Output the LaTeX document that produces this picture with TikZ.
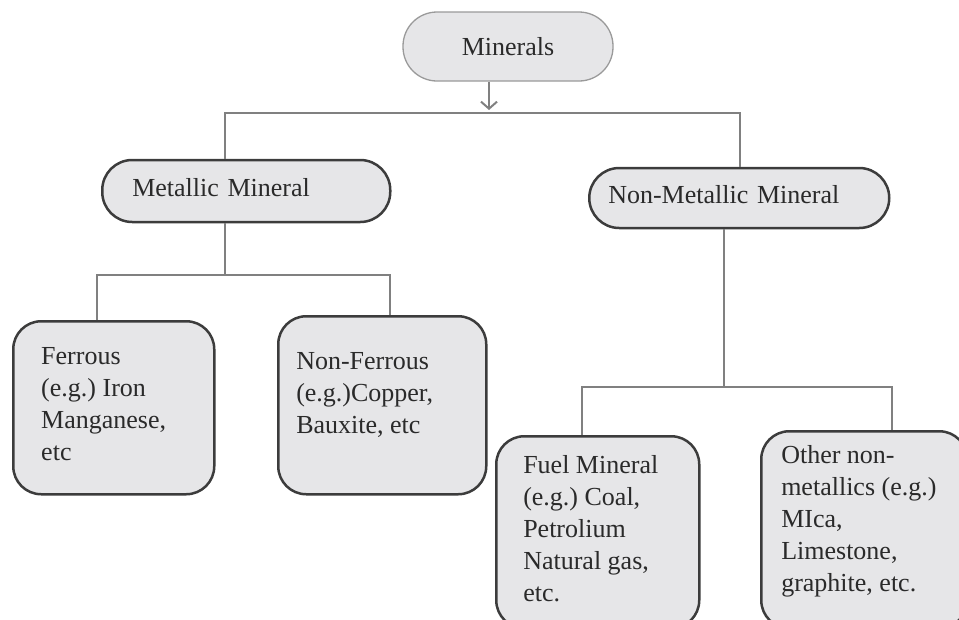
\documentclass[tikz,border=0pt]{standalone}
\usepackage{fontspec}
\setmainfont{Liberation Serif}
\usetikzlibrary{arrows.meta,positioning}
\definecolor{boxfill}{HTML}{E6E6E8}
\definecolor{boxline}{HTML}{3C3C3C}
\definecolor{rootline}{HTML}{9A9A9A}
\definecolor{linkgray}{HTML}{808080}
\definecolor{textgray}{HTML}{2A2A2A}
\frenchspacing

\begin{document}
\begin{tikzpicture}[x=1pt,y=-1pt,>={Straight Barb[length=7pt,width=16pt]},
    every node/.style={font=\fontsize{26}{32}\selectfont,text=textgray},
    root node/.style={draw=rootline,line width=1.3pt,fill=boxfill,rounded corners=34pt,minimum width=210pt,minimum height=69pt},
    main node/.style={draw=boxline,line width=2.5pt,fill=boxfill,rounded corners=30pt,minimum height=62pt,align=left,anchor=west,text depth=8pt},
    leaf node/.style={draw=boxline,line width=2.5pt,fill=boxfill,rounded corners=28pt,anchor=north west},
    link/.style={draw=linkgray,line width=2pt}]
    \useasboundingbox (0,0) rectangle (959,619);
    \clip (0,0) rectangle (959,619);

    \node[root node] (1) at (508,46.5) {Minerals};
    \node[main node,text width=228pt,inner xsep=30pt] (2) at (101,191) {Metallic Mineral};
    \node[main node,text width=262pt,inner xsep=19pt,minimum height=60pt] (3) at (588,198) {Non-Metallic Mineral};
    \node[leaf node,inner xsep=28pt,inner ysep=20.6pt] (4) at (12,320)
        {\parbox[t][131.8pt][t]{145pt}{\raggedright\strut Ferrous\\(e.g.) Iron\\Manganese,\\etc}};
    \node[leaf node,inner xsep=18pt,inner ysep=30.6pt] (5) at (277,315)
        {\parbox[t][116.8pt][t]{172pt}{\raggedright\strut Non-Ferrous\\(e.g.)Copper,\\Bauxite, etc}};
    \node[leaf node,inner xsep=27pt,inner ysep=14.6pt] (6) at (495,435)
        {\parbox[t][162.8pt][t]{149pt}{\raggedright\strut Fuel Mineral\\(e.g.) Coal,\\Petrolium\\Natural gas,\\etc.}};
    \node[leaf node,inner xsep=20pt,inner ysep=9.6pt] (7) at (760,430)
        {\parbox[t][177.8pt][t]{166pt}{\raggedright\strut Other non-\\metallics (e.g.)\\MIca,\\Limestone,\\graphite, etc.}};

    \coordinate (t) at (489,110);
    \coordinate (b1) at (225,113);
    \coordinate (b2) at (740,113);
    \coordinate (m) at (225,275);
    \coordinate (m1) at (97,275);
    \coordinate (m2) at (390,275);
    \coordinate (n) at (724,387);
    \coordinate (n1) at (582,387);
    \coordinate (n2) at (892,387);

    \draw[link,->] (1.south -| t) -- (t);
    \draw[link] (2.north -| b1) -- (b1) -- (b2) -- (3.north -| b2);
    \draw[link] (2.south -| m) -- (m);
    \draw[link] (4.north -| m1) -- (m1) -- (m2) -- (5.north -| m2);
    \draw[link] (3.south -| n) -- (n);
    \draw[link] (6.north -| n1) -- (n1) -- (n2) -- (7.north -| n2);
\end{tikzpicture}
\end{document}
